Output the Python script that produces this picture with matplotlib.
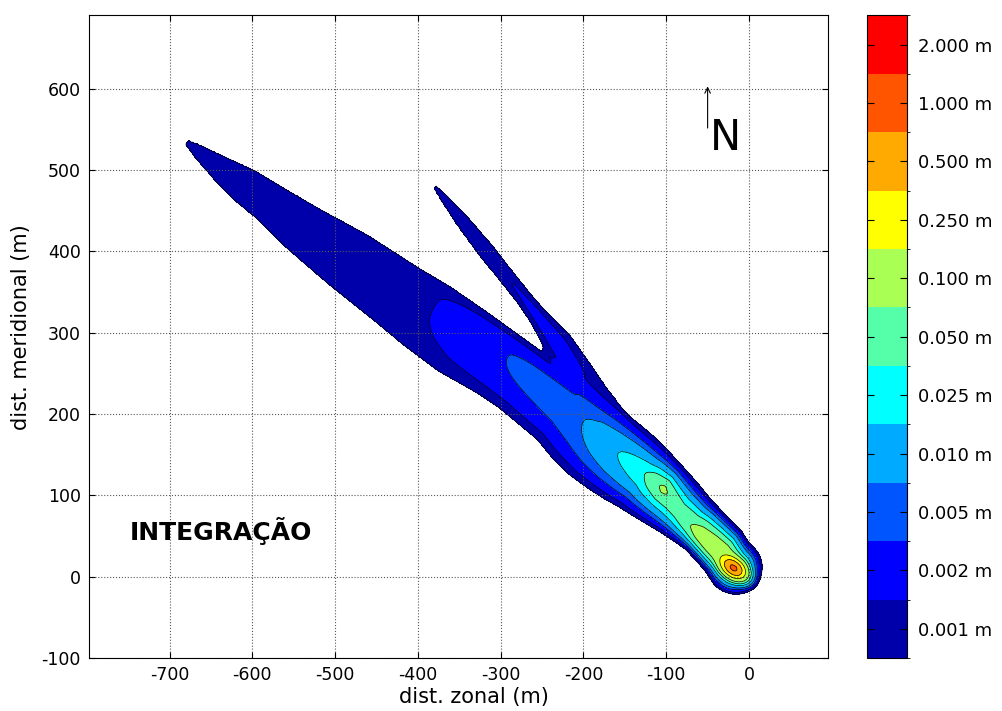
import numpy as np
import matplotlib
matplotlib.use("Agg")
from matplotlib import pyplot as plt
from matplotlib.colors import ListedColormap, BoundaryNorm
from matplotlib.cm import ScalarMappable

plt.rcParams["axes.unicode_minus"] = False

# contour levels (m) and their colours
levels = [0.001, 0.002, 0.005, 0.010, 0.025, 0.050, 0.100, 0.250, 0.500, 1.000, 2.000]
level_colors = ["#0000AA", "#0000FF", "#0055FF", "#00AAFF", "#00FFFF", "#55FFAA",
                "#AAFF55", "#FFFF00", "#FFAA00", "#FF5500", "#FF0000"]

# main plume, read along its axis (distance from the source, m)
source = (-18.6, 10.7)
axis_dir = (-0.785, 0.620)
s_nodes = [0, 8, 22, 40, 60, 73, 95, 110, 127, 145, 156, 175, 197, 225, 254, 284,
           345, 375, 430, 483, 527, 600, 667, 720, 755, 790, 822, 843, 870]
ridge_t = [0, 1, 4, 5, 7, 9, 14, 19, 24, 25, 25, 25, 25, 27, 30, 32,
           35, 36, 36, 35, 30, 20, 12, 8, 5, 3, 2, 2, 2]
upper_t = [35, 37, 42, 44, 47, 49, 54, 57, 60, 63, 65, 67, 68, 68, 66, 65,
           65, 64, 62, 59, 53.5, 47, 36, 29, 25, 17, 10, 5, 4]
lower_t = [-31, -30, -25, -21, -18, -18.5, -20, -22, -24, -26, -27, -30, -32, -33, -30, -23,
           -21, -23, -31, -32, -30.5, -29.5, -26, -20, -19, -14, -8, -2, -1]
peak = [0.15, 0.16, 0.17, 0.16, 0.13, 0.1, 0.075, 0.085, 0.115, 0.075, 0.05, 0.035, 0.025,
        0.016, 0.01, 0.0078, 0.006, 0.005, 0.0033, 0.002, 0.0018, 0.0016, 0.0015,
        0.0014, 0.0013, 0.0012, 0.0011, 0.001, 0.0007]
shape_p = [2.0, 2.1, 2.2, 2.2, 2.1, 1.9, 1.8, 1.7, 1.6, 1.6, 1.6, 1.7, 1.8, 1.9, 2.0, 2.1,
           2.2, 2.3, 2.4, 2.5, 2.5, 2.5, 2.5, 2.5, 2.5, 2.5, 2.5, 2.5, 2.5]
head_radius = 34.0

# concentrated core at the source
core_peak = 1.3
core_len = (12.0, 7.5)

# northern arm
arm_origin = (-238.0, 299.0)
arm_dir = (-0.617, 0.787)
arm_s = [-220, -160, -100, -60, -16, 0, 30, 57, 100, 128, 176, 210, 229, 245]
arm_mid = [-6, -6, -5, -4, -2.5, -1.5, -0.5, 0, 0, 0, 0, 0, 0, 0]
arm_hw = [10, 12, 15, 17, 18, 15, 11, 9.5, 9.5, 10, 8, 5, 2.5, 2]
arm_peak = [0.0001, 0.0004, 0.0012, 0.0021, 0.0025, 0.0025, 0.0024, 0.0021, 0.0019,
            0.0017, 0.0014, 0.00115, 0.001, 0.0007]


def profile(c, r, p):
    # c on the axis, exactly 0.001 at r = 1, quickly nothing beyond
    d = np.abs(np.log(c / 0.001))
    return c * np.exp(-d * r ** p - 25 * np.maximum(r - 1, 0) ** 2)


x = np.arange(-800, 101, 2.0)
y = np.arange(-100, 701, 2.0)
X, Y = np.meshgrid(x, y)

# main plume
ux, uy = axis_dir
dx, dy = X - source[0], Y - source[1]
s = dx * ux + dy * uy
t = dx * uy - dy * ux
sc = np.clip(s, s_nodes[0], s_nodes[-1])
c = 10 ** np.interp(sc, s_nodes, np.log10(peak))
tr = np.interp(sc, s_nodes, ridge_t)
hu = np.interp(sc, s_nodes, upper_t) - tr
hl = tr - np.interp(sc, s_nodes, lower_t)
r = np.where(t >= tr, (t - tr) / hu, (tr - t) / hl)
r = np.hypot(r, np.minimum(s, 0) / head_radius)
main = profile(c, r, np.interp(sc, s_nodes, shape_p))

rho = np.hypot(s / core_len[0], t / core_len[1])
core = core_peak * np.exp(-rho - 0.2 * rho ** 3)

# arm
ax_, ay_ = arm_dir
dx, dy = X - arm_origin[0], Y - arm_origin[1]
sa = dx * ax_ + dy * ay_
ta = dx * ay_ - dy * ax_
sac = np.clip(sa, arm_s[0], arm_s[-1])
ca = 10 ** np.interp(sac, arm_s, np.log10(arm_peak))
ra = np.abs(ta - np.interp(sac, arm_s, arm_mid)) / np.interp(sac, arm_s, arm_hw)
arm = profile(ca, ra, 2.5)
arm[(sa < arm_s[0]) | (sa > arm_s[-1])] = 0

field = main + core + arm

fig = plt.figure(figsize=(10.03, 7.11), dpi=100)
ax = fig.add_axes([0.089, 0.0745, 0.737, 0.904])

ax.contourf(X, Y, field, levels=levels + [100], colors=level_colors)
ax.contour(X, Y, field, levels=levels, colors="k", linewidths=0.5)

ax.set_xlim(-797, 96)
ax.set_ylim(-100, 690)
ax.set_xticks(np.arange(-700, 1, 100))
ax.set_yticks(np.arange(-100, 601, 100))
ax.grid(True, linestyle=":", color="0.35", linewidth=0.8)
ax.tick_params(direction="in", top=True, right=True, length=4, labelsize=12.5, pad=6)
ax.set_xlabel("dist. zonal (m)", fontsize=15)
ax.set_ylabel("dist. meridional (m)", fontsize=15)
ax.xaxis.set_label_coords(0.52, -0.045)
ax.yaxis.set_label_coords(-0.079, 0.515)

ax.text(-748, 45, "INTEGRAÇÃO", fontsize=18, fontweight="bold", ha="left", va="baseline")
ax.annotate("", xy=(-50, 606), xytext=(-50, 548),
            arrowprops=dict(arrowstyle="->", lw=0.8, color="k"))
ax.text(-28, 524, "N", fontsize=30, ha="center", va="baseline")

# colour bar with one equal box per level
cax = fig.add_axes([0.864, 0.0745, 0.040, 0.904])
sm = ScalarMappable(norm=BoundaryNorm(np.arange(len(levels) + 1), len(levels)),
                    cmap=ListedColormap(level_colors))
cb = fig.colorbar(sm, cax=cax)
cb.set_ticks(np.arange(len(levels)) + 0.5)
cb.set_ticklabels(["%.3f m" % v for v in levels])
cb.ax.tick_params(direction="in", left=True, right=True, length=5, labelsize=13, pad=8)
cb.outline.set_linewidth(0.8)

fig.savefig("out.png", dpi=100)
